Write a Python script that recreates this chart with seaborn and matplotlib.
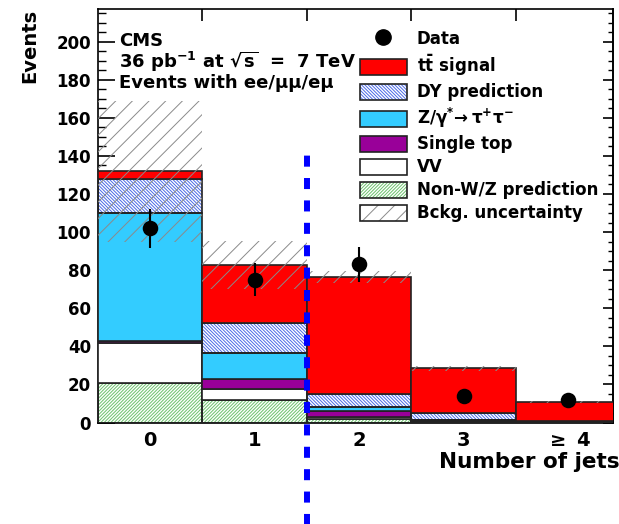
import numpy as np
import pandas as pd
import seaborn as sns
import matplotlib.pyplot as plt
from matplotlib.patches import Patch
from matplotlib.lines import Line2D
from matplotlib.ticker import MultipleLocator

# jet-multiplicity bins
bins = [0, 1, 2, 3, 4]
bin_labels = ['0', '1', '2', '3', r'$\geq$ 4']

# stacked predictions, bottom to top
nonwz = [20.6, 11.8, 1.7, 0.4, 0.2]
vv = [21.0, 5.6, 1.3, 0.3, 0.1]
single_top = [1.0, 5.3, 2.9, 0.4, 0.3]
ztautau = [67.6, 13.6, 2.4, 0.2, 0.1]
dy = [17.8, 16.1, 6.7, 3.5, 0.3]
ttbar = [4.0, 30.3, 61.6, 23.7, 9.9]
bkg_unc = [37.0, 12.6, 3.2, 1.2, 0.6]

# observed
data = [102, 75, 83, 14, 12]
data_err = [10.1, 8.7, 9.1, 3.7, 3.5]

cut_position = 1.5

sns.set_theme(style='ticks')
plt.rcParams['font.family'] = ['DejaVu Sans']
plt.rcParams['font.weight'] = 'bold'
plt.rcParams['axes.labelweight'] = 'bold'
plt.rcParams['mathtext.fontset'] = 'dejavusans'
plt.rcParams['mathtext.default'] = 'bf'
plt.rcParams['hatch.linewidth'] = 0.7
for key in ['text.color', 'axes.labelcolor', 'xtick.color', 'ytick.color',
            'axes.edgecolor']:
    plt.rcParams[key] = 'black'

fig = plt.figure(figsize=(6.19, 5.24), dpi=100)
ax = fig.add_axes([0.1583, 0.1937, 0.832, 0.7885])

outline = '#222222'
dy_hatch = '\\' * 10
nonwz_hatch = '/' * 10
layers = [
    (nonwz, 'white', '#6cc26c', nonwz_hatch),
    (vv, 'white', None, None),
    (single_top, '#990099', None, None),
    (ztautau, '#33ccff', None, None),
    (dy, 'white', '#4a6ae6', dy_hatch),
    (ttbar, '#ff0000', None, None),
]
bottom = np.zeros(len(bins))
for vals, face, hcol, hatch in layers:
    vals = np.asarray(vals)
    if hatch:
        ax.bar(bins, vals, bottom=bottom, width=1.0, color=face,
               edgecolor=hcol, hatch=hatch, linewidth=0, zorder=2)
        ax.bar(bins, vals, bottom=bottom, width=1.0, fill=False,
               edgecolor=outline, linewidth=1.2, zorder=3)
    else:
        ax.bar(bins, vals, bottom=bottom, width=1.0, color=face,
               edgecolor=outline, linewidth=1.2, zorder=3)
    bottom = bottom + vals

total = bottom
unc = np.asarray(bkg_unc)
ax.bar(bins, 2 * unc, bottom=total - unc, width=1.0, fill=False,
       edgecolor='#8a8a8a', hatch='//', linewidth=0, zorder=4)

# data points
df = pd.DataFrame({'jets': bins, 'events': data, 'err': data_err})
ax.errorbar(df['jets'], df['events'], yerr=df['err'], fmt='none',
            ecolor='black', elinewidth=1.5, capsize=0, zorder=5)
sns.scatterplot(data=df, x='jets', y='events', ax=ax, color='black',
                s=125, edgecolor='black', linewidth=0, zorder=6, legend=False)

# cut line
ax.axvline(cut_position, ymin=-0.27, ymax=0.653, color='#0000ff', lw=4.3,
           dashes=(1.85, 1.9), clip_on=False, zorder=7)

ax.set_xlim(-0.5, 4.43)
ax.set_ylim(0, 217)

ax.set_xticks(bins)
ax.set_xticklabels(bin_labels, fontsize=14, fontweight='bold')
ax.set_xticks([b + 0.5 for b in bins[:-1]], minor=True)
ax.tick_params(axis='x', which='major', length=0, pad=6)
ax.tick_params(axis='x', which='minor', direction='in', length=8.5,
               width=1.2, top=True, bottom=True)

ax.yaxis.set_major_locator(MultipleLocator(20))
ax.yaxis.set_minor_locator(MultipleLocator(5))
ax.set_yticks(range(0, 201, 20))
ax.tick_params(axis='y', which='major', direction='in', length=12,
               width=1.2, labelsize=12, pad=5)
ax.tick_params(axis='y', which='minor', direction='in', length=6, width=1.0)
for lab in ax.get_yticklabels():
    lab.set_fontweight('bold')

sec = ax.secondary_yaxis('right')
sec.yaxis.set_major_locator(MultipleLocator(20))
sec.yaxis.set_minor_locator(MultipleLocator(5))
sec.tick_params(which='major', direction='in', length=7, width=1.2,
                labelright=False)
sec.tick_params(which='minor', direction='in', length=3.5, width=1.0)

for sp in ax.spines.values():
    sp.set_visible(True)
    sp.set_linewidth(1.2)
sec.spines['right'].set_linewidth(1.2)

ax.set_ylabel('Events', fontsize=14, loc='top')
ax.yaxis.set_label_coords(-0.115, 1.0)
ax.set_xlabel('Number of jets', fontsize=15.5, loc='right')
ax.xaxis.set_label_coords(1.012, -0.072)

ax.text(0.041, 0.912, 'CMS', transform=ax.transAxes, fontsize=13,
        fontweight='bold', va='baseline')
ax.text(0.041, 0.857, r'36 pb$^{-1}$ at $\sqrt{s}$  =  7 TeV',
        transform=ax.transAxes, fontsize=13, fontweight='bold', va='baseline')
ax.text(0.041, 0.809, 'Events with ee/\u03bc\u03bc/e\u03bc',
        transform=ax.transAxes, fontsize=13, fontweight='bold', va='baseline')

def hatched(hcol, hatch, face='white'):
    return (Patch(facecolor=face, edgecolor=hcol, hatch=hatch, linewidth=0),
            Patch(fill=False, edgecolor=outline, linewidth=1.2))

handles = [
    Line2D([], [], marker='o', color='black', linestyle='none', markersize=11),
    Patch(facecolor='#ff0000', edgecolor=outline, linewidth=1.2),
    hatched('#4a6ae6', dy_hatch),
    Patch(facecolor='#33ccff', edgecolor=outline, linewidth=1.2),
    Patch(facecolor='#990099', edgecolor=outline, linewidth=1.2),
    Patch(facecolor='white', edgecolor=outline, linewidth=1.2),
    hatched('#6cc26c', nonwz_hatch),
    hatched('#8a8a8a', '//'),
]
labels = ['Data', r'$\mathbf{t\bar{t}}$ signal', 'DY prediction',
          r'Z/$\gamma^{*}\!\rightarrow\tau^{+}\tau^{-}$', 'Single top', 'VV',
          'Non-W/Z prediction', 'Bckg. uncertainty']
leg = ax.legend(handles, labels, loc='upper left', bbox_to_anchor=(0.509, 0.95),
                frameon=False, fontsize=12, borderpad=0, borderaxespad=0,
                handlelength=2.8, handleheight=1.08, handletextpad=0.6,
                labelspacing=0.3)
for t in leg.get_texts():
    t.set_fontweight('bold')

fig.savefig('out.png', dpi=100)
